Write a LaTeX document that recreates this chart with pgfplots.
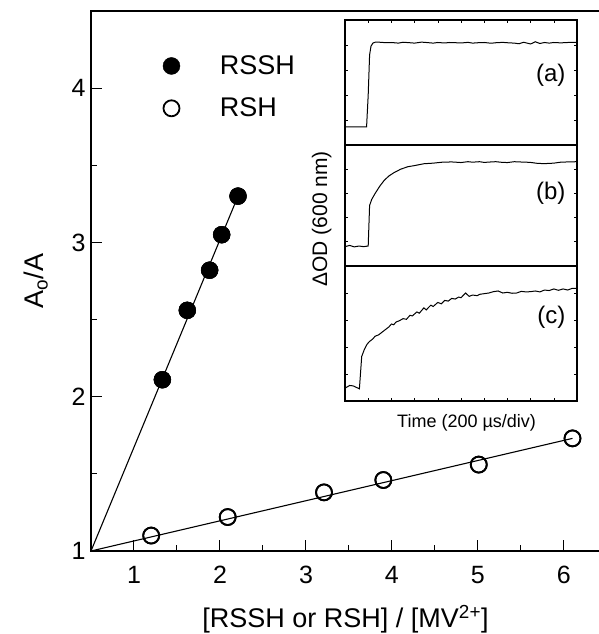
\documentclass[border=0pt]{standalone}
\usepackage{fontspec}
\setmainfont{Liberation Sans}
\usepackage{pgfplots}
\pgfplotsset{compat=1.18}
\begin{document}
\begin{tikzpicture}
\begin{axis}[
  at={(0pt,0pt)}, anchor=south west,
  scale only axis, width=509pt, height=540pt,
  xmin=0.5, xmax=6.42, ymin=1, ymax=4.5,
  xtick={1,2,3,4,5,6}, ytick={1,2,3,4},
  minor xtick={1.5,2.5,3.5,4.5,5.5}, minor ytick={1.5,2.5,3.5},
  xtick pos=bottom, ytick pos=left,
  tick align=inside,
  major tick length=11pt, minor tick length=6pt,
  every tick/.style={black, line width=1pt},
  axis line style={line width=1.4pt},
  /pgf/number format/assume math mode=true,
  tick label style={font=\fontsize{25}{28}\selectfont},
  xticklabel style={yshift=-12pt},
  yticklabel style={xshift=-2pt},
  xlabel={[RSSH or RSH] / [MV\textsuperscript{2+}]},
  ylabel={A\textsubscript{o}/A},
  every axis x label/.style={at={(axis description cs:0.5,-0.141)}, anchor=base,
    font=\fontsize{27}{30}\selectfont},
  every axis y label/.style={at={(axis description cs:-0.108,0.5)}, rotate=90, anchor=center,
    font=\fontsize{27}{30}\selectfont},
  legend style={draw=none, fill=none, at={(axis cs:1.30,4.237)}, anchor=north west,
    font=\fontsize{27}{30}\selectfont, row sep=18pt,
    /tikz/every odd column/.append style={column sep=38pt}},
  legend cell align=left,
]
\addplot[only marks, mark=*, mark size=8.5pt, mark options={fill=black, draw=black}]
  coordinates {(1.33,2.11) (1.62,2.56) (1.88,2.82) (2.02,3.05) (2.21,3.30)};
\addlegendentry{RSSH}
\addplot[only marks, mark=o, mark size=8pt, mark options={line width=1.8pt, fill=white}]
  coordinates {(1.20,1.10) (2.09,1.22) (3.21,1.38) (3.90,1.46) (5.01,1.56) (6.10,1.73)};
\addlegendentry{RSH}
\addplot[black, line width=1.1pt, forget plot] coordinates {(0.5,1.0) (2.21,3.30)};
\addplot[black, line width=1.1pt, forget plot] coordinates {(0.5,1.0) (6.10,1.73)};
% redraw marks above the lines
\addplot[only marks, mark=*, mark size=8.5pt, mark options={fill=black, draw=black}, forget plot]
  coordinates {(1.33,2.11) (1.62,2.56) (1.88,2.82) (2.02,3.05) (2.21,3.30)};
\addplot[only marks, mark=o, mark size=8pt, mark options={line width=1.8pt, fill=white}, forget plot]
  coordinates {(1.20,1.10) (2.09,1.22) (3.21,1.38) (3.90,1.46) (5.01,1.56) (6.10,1.73)};
\end{axis}

\pgfplotsset{inset/.style={
  anchor=south west, scale only axis, width=232pt,
  xmin=0, xmax=1, ymin=0, ymax=1,
  xtick={0.1,0.2,...,0.95}, ytick={0.2,0.4,0.6,0.8},
  xticklabels={}, yticklabels={},
  tick align=inside, major tick length=3pt,
  every tick/.style={black, line width=0.6pt},
  axis line style={line width=1.1pt},
  axis background/.style={fill=white},
  clip=false,
}}
% panel (a)
\begin{axis}[inset, at={(254pt,406pt)}, height=125pt, xtick pos=top]
\addplot[black, line width=1pt] coordinates {
(0,0.145) (0.093,0.145) (0.1,0.40) (0.106,0.72) (0.112,0.79) (0.12,0.815) (0.13,0.822)
(0.15,0.822) (0.18,0.818) (0.2,0.82) (0.23,0.815) (0.25,0.822) (0.28,0.818) (0.3,0.815)
(0.33,0.823) (0.35,0.82) (0.38,0.815) (0.4,0.82) (0.43,0.816) (0.45,0.82) (0.48,0.818)
(0.5,0.816) (0.53,0.821) (0.55,0.815) (0.58,0.819) (0.6,0.82) (0.63,0.814) (0.65,0.818)
(0.68,0.821) (0.7,0.818) (0.73,0.815) (0.75,0.81) (0.77,0.822) (0.8,0.808) (0.82,0.826)
(0.84,0.812) (0.86,0.82) (0.88,0.815) (0.9,0.82) (0.93,0.817) (0.96,0.82) (1,0.822)};
\node[font=\fontsize{24}{26}\selectfont, anchor=east] at (axis cs:0.965,0.56) {(a)};
\end{axis}
% panel (b)
\begin{axis}[inset, at={(254pt,285pt)}, height=121pt, xtick=\empty,
  ylabel={ΔOD (600 nm)},
  every axis y label/.style={at={(axis description cs:-0.10,0.39)}, rotate=90, anchor=center,
    font=\fontsize{21}{24}\selectfont}]
\addplot[black, line width=1pt] coordinates {
(0,0.16) (0.02,0.17) (0.04,0.158) (0.06,0.165) (0.08,0.16) (0.1,0.165) (0.106,0.50)
(0.115,0.55) (0.13,0.60) (0.15,0.66) (0.17,0.71) (0.19,0.745) (0.21,0.77) (0.24,0.80)
(0.27,0.82) (0.3,0.83) (0.34,0.845) (0.38,0.85) (0.42,0.858) (0.46,0.86) (0.5,0.855)
(0.53,0.862) (0.55,0.858) (0.58,0.862) (0.6,0.856) (0.63,0.86) (0.65,0.862) (0.68,0.856)
(0.7,0.855) (0.73,0.862) (0.75,0.86) (0.78,0.858) (0.8,0.856) (0.83,0.848) (0.86,0.846)
(0.9,0.85) (0.93,0.858) (0.96,0.86) (1,0.862)};
\node[font=\fontsize{24}{26}\selectfont, anchor=east] at (axis cs:0.965,0.60) {(b)};
\end{axis}
% panel (c)
\begin{axis}[inset, at={(254pt,150pt)}, height=135pt, xtick pos=bottom,
  xlabel={Time (200 µs/div)},
  every axis x label/.style={at={(axis description cs:0.524,-0.2)}, anchor=base,
    font=\fontsize{18}{21}\selectfont}]
\addplot[black, line width=1pt] coordinates {
(0,0.095) (0.02,0.115) (0.035,0.112) (0.05,0.1) (0.062,0.09) (0.072,0.33) (0.083,0.38)
(0.095,0.42) (0.105,0.44) (0.12,0.46) (0.13,0.48) (0.145,0.49) (0.16,0.51) (0.175,0.53)
(0.19,0.55) (0.2,0.57) (0.21,0.565) (0.22,0.585) (0.235,0.595) (0.25,0.61) (0.265,0.605)
(0.28,0.635) (0.29,0.63) (0.31,0.66) (0.32,0.65) (0.34,0.69) (0.35,0.675) (0.37,0.71)
(0.38,0.70) (0.4,0.73) (0.415,0.72) (0.43,0.745) (0.445,0.74) (0.46,0.76) (0.475,0.755)
(0.49,0.77) (0.5,0.765) (0.52,0.80) (0.535,0.775) (0.55,0.785) (0.57,0.78) (0.58,0.79)
(0.6,0.795) (0.62,0.80) (0.64,0.81) (0.66,0.815) (0.68,0.80) (0.7,0.805) (0.72,0.798)
(0.74,0.80) (0.76,0.812) (0.78,0.808) (0.8,0.81) (0.82,0.815) (0.84,0.808) (0.86,0.822)
(0.88,0.818) (0.9,0.83) (0.92,0.82) (0.94,0.83) (0.96,0.822) (0.98,0.835) (1,0.835)};
\node[font=\fontsize{24}{26}\selectfont, anchor=east] at (axis cs:0.965,0.62) {(c)};
\end{axis}
\pgfresetboundingbox
\path (-91pt,-83pt) rectangle (507pt,551pt);
\end{tikzpicture}
\end{document}
